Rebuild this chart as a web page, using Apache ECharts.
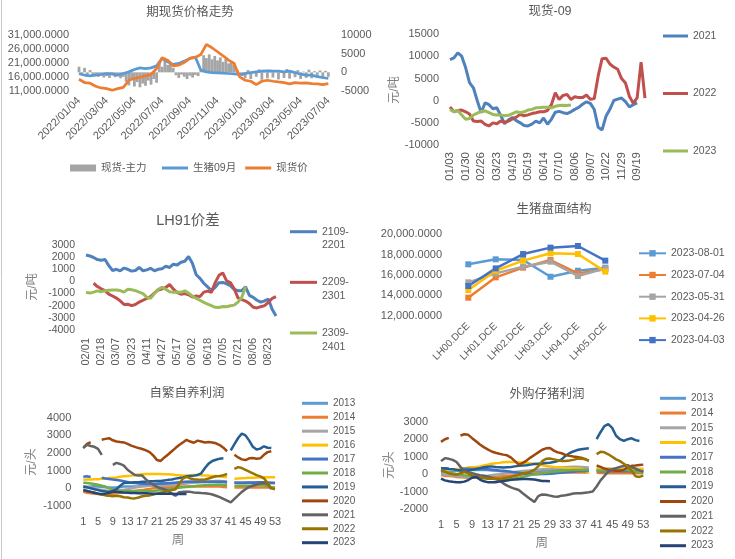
<!DOCTYPE html>
<html><head><meta charset="utf-8">
<script src="https://cdn.jsdelivr.net/npm/echarts@6/dist/echarts.min.js"></script>
<style>html,body{margin:0;padding:0;background:#fff;width:735px;height:559px;overflow:hidden}
.c{position:absolute;left:0;top:0;width:735px;height:559px}</style>
</head><body>
<div id="p1" class="c"></div><div id="p2" class="c"></div><div id="p3" class="c"></div>
<div id="p4" class="c"></div><div id="p5" class="c"></div><div id="p6" class="c"></div>
<script>
// ---------- Panel 1: 期现货价格走势 ----------
const p1Ticks = ['2022/01/04','2022/03/04','2022/05/04','2022/07/04','2022/09/04','2022/11/04','2023/01/04','2023/03/04','2023/05/04','2023/07/04'];
const p1Names = ['现货-主力','生猪09月','现货价'];
// basis (right axis), one value every 0.1 tick-interval
const p1Basis = [1500,-800,1200,-1200,600,-1000,
 -600,-1200,-900,-1400,-1000,-1500,-800,-1300,-1000,-1600,-1200,
 -2500,-3500,-2000,-3800,-2600,-4000,-3000,-3600,-2200,-3300,-1800,-2800,
 2800,1500,3200,2000,2600,1200,
 -800,-1500,-600,-1200,-1800,-900,-1400,-700,-1000,
 500,
 4600,3800,4800,3500,4400,3200,4000,2800,3600,2400,3000,2000,
 800,-500,-1000,
 -1500,600,-1800,300,-1200,800,-2000,400,-1600,700,-1400,500,-1900,300,-1500,900,-1700,400,-1300,600,-1800,200,-1500,700,-1600,300,-1400,500,-1700,400,-1200];
// one value every 0.2 tick-interval
const p1Futures = [17250,16640,16400,16640,16890,17250,17130,16640,17250,17830,18670,19260,19030,19260,19980,22630,21440,20480,20840,21670,22630,23100,18440,17830,17590,17470,17350,17250,17130,16890,17250,17590,17830,18070,18190,18070,18070,17830,18070,17590,17000,16640,16640,16160,15820,15460];
const p1Spot = [15200,14020,13780,12700,12080,11870,11260,11870,12320,14840,15460,15900,16400,16890,19030,22880,22020,19980,20240,21200,22630,23000,24060,27650,26450,25020,23580,22020,20840,16030,14840,14480,13280,14480,14840,14480,14240,14020,13540,14020,13780,13900,13660,13540,13300,13660];

// ---------- Panel 2: 现货-09 ----------
const p2Ticks = ['01/03','01/30','02/26','03/23','04/19','05/19','06/14','07/10','08/06','09/07','10/22','11/29','09/19'];
const p2Names = ['2021','2022','2023'];
const p2Y2021 = [9300,9670,10800,10050,7500,4100,2920,0,-2700,-450,-900,-1800,-1600,-3300,-5200,-4300,-3800,-4500,-5000,-5600,-5700,-5300,-4600,-5000,-3900,-5300,-4200,-2600,-2400,-2700,-2900,-2500,-1950,-1500,-800,-250,-600,-2000,-6000,-6600,-3500,-1950,50,350,600,-200,-1400,-900,-500];
const p2Y2022 = [-1430,-2500,-2200,-2100,-2500,-3000,-4580,-4700,-4600,-5330,-5700,-5000,-5200,-4580,-4900,-4600,-4100,-3700,-3080,-3400,-3200,-2900,-2700,-2480,-2500,-2200,-900,1800,300,1200,1420,300,900,700,700,1270,300,500,5600,9500,9600,8300,7600,7100,5000,4000,1000,-600,700,8700,600];
const p2Y2023 = [-1950,-2480,-2200,-3200,-4200,-4000,-3230,-2800,-2400,-2300,-2700,-3100,-3230,-3200,-3400,-3300,-2900,-2500,-2700,-2500,-2100,-1950,-1600,-1550,-1450,-1450,-1600,-1250,-1100,-1000,-1100,-980];

// ---------- Panel 3: LH91价差 ----------
const p3Ticks = ['02/01','02/18','03/07','03/23','04/11','04/27','05/17','06/02','06/18','07/05','07/21','08/06','08/23'];
const p3Names = ['2109-2201','2209-2301','2309-2401'];
const p3S2109 = [2180,2100,1970,1800,1750,1800,1300,900,1000,870,1100,1000,850,900,1150,880,950,1080,880,1000,1050,1250,1150,1420,1350,1580,1660,2050,1500,550,250,-150,-450,-750,-480,-100,-80,-200,-350,-650,-760,-760,-450,-1150,-1310,-1550,-1700,-1600,-1450,-2300,-2850];
const p3S2209 = [null,null,-150,-420,-600,-760,-1050,-1200,-1370,-1600,-1900,-1880,-1990,-1900,-1700,-1550,-1400,-1250,-950,-700,-620,-500,-250,-630,-920,-1050,-1000,-1100,-1280,-1200,-1250,-880,-800,-900,-100,500,700,50,-100,-600,-1350,-1500,-1620,-1820,-2130,-2180,-2080,-1990,-1720,-1400,-1260];
const p3S2309 = [-900,-960,-880,-780,-850,-760,-730,-710,-700,-750,-880,-650,-680,-760,-880,-1000,-1300,-1400,-1000,-650,-490,-650,-850,-900,-880,-900,-780,-960,-1200,-1400,-1550,-1720,-1860,-2000,-2130,-2150,-2070,-2080,-2000,-1950,-1700,-1300,-450];

// ---------- Panel 4: 生猪盘面结构 ----------
const p4Cats = ['LH00.DCE','LH01.DCE','LH02.DCE','LH03.DCE','LH04.DCE','LH05.DCE'];
const p4Names = ['2023-08-01','2023-07-04','2023-05-31','2023-04-26','2023-04-03'];
const p4D0801 = [17050,17540,17470,15830,16420,16720];
const p4D0704 = [13770,15770,16720,17470,16160,16560];
const p4D0531 = [15280,16160,16820,17310,15900,16650];
const p4D0426 = [14520,16420,17410,18130,18060,16330];
const p4D0403 = [14920,16650,18060,18690,18850,17410];

// ---------- Panels 5/6: weeks ----------
const weeks = ['1','2','3','4','5','6','7','8','9','10','11','12','13','14','15','16','17','18','19','20','21','22','23','24','25','26','27','28','29','30','31','32','33','34','35','36','37','38','39','40','41','42','43','44','45','46','47','48','49','50','51','52','53'];
const yearNames = ['2013','2014','2015','2016','2017','2018','2019','2020','2021','2022','2023'];
const NA24 = [null,null,null,null,null,null,null,null,null,null,null,null,null,null,null,null,null,null,null,null,null,null,null,null];
// 自繁自养利润
const p5Y2013 = [50,80,100,120,100,80,60,50,50,50,80,100,100,100,100,120,150,180,200,220,240,260,280,300,300,300,320,340,360,380,380,380,380,380,380,370,360,350,340,330,null,330,330,330,340,340,340,340,340,340,330,320,300];
const p5Y2014 = [-200,-250,-280,-300,-320,-350,-350,-330,-300,-280,-250,-230,-200,-180,-150,-120,-100,-60,-30,0,20,40,60,70,80,90,100,100,100,100,100,100,100,100,100,100,100,100,80,60,null,50,50,50,50,50,50,50,50,50,50,50,50];
const p5Y2015 = [100,80,50,0,-50,-100,-120,-150,-150,-120,-100,-80,-50,0,50,80,100,120,150,150,150,150,160,170,180,200,220,250,280,300,320,330,340,350,380,400,420,420,400,380,null,330,330,330,320,320,320,320,320,310,300,300,300];
const p5Y2016 = [490,500,500,520,520,550,560,580,600,620,650,680,700,720,750,780,800,810,810,810,810,810,800,800,780,760,740,720,720,740,760,760,740,720,720,700,700,680,660,630,null,550,560,570,580,600,600,620,630,630,630,630,630];
const p5Y2017 = [660,680,640,null,null,600,560,530,500,470,440,400,360,320,300,280,260,250,250,250,260,270,280,290,300,320,340,360,380,380,380,380,380,380,380,380,380,370,370,360,null,320,300,300,300,310,320,330,340,340,320,300,300];
const p5Y2018 = [320,300,280,250,200,150,100,0,-50,-100,-150,-150,-150,-150,-150,-150,-150,-150,-150,-150,-120,-100,-80,-50,-20,0,30,60,80,100,120,140,160,180,200,200,200,200,190,190,null,150,150,150,150,150,160,170,180,170,120,60,40];
const p5Y2019 = [100,60,0,-50,-100,-150,-180,-200,-150,-50,150,300,320,330,350,350,380,380,400,400,420,420,450,480,500,550,580,620,680,700,720,760,850,1150,1400,1550,1620,1680,1700,null,2150,2500,2850,3100,3000,2700,2350,2200,2250,2380,2300,2280,null];
const p5Y2020 = [2270,2520,2610,null,null,2750,2800,2840,2720,2650,2620,2600,2520,2420,2350,2280,2230,2150,2050,1850,1600,1550,1750,1920,2100,2280,2450,2600,2750,2650,2580,2700,2650,2600,2620,2600,2550,2450,2300,2100,null,1900,1750,1640,1600,1700,1720,1680,1700,1900,2050,2100,null];
const p5Y2021 = [2330,2460,2400,2350,2230,1890,null,null,1330,1440,1380,1290,1050,900,750,720,720,500,330,200,80,0,-50,-150,-300,-420,-220,-200,-190,-200,-230,-250,-270,-280,-300,-350,-420,-500,-600,-700,-800,-600,-400,-200,-50,80,150,220,280,300,250,-40,null];
const p5Y2022 = [-100,-150,-200,-250,-300,-350,-400,-420,-450,-420,-450,-500,-520,-560,-570,-520,-450,-420,-400,-350,-300,-250,-200,-150,-100,-50,250,550,650,560,520,500,490,500,560,630,680,700,740,810,null,1100,1200,1150,1050,950,850,750,680,570,300,0,-50];
const p5Y2023 = [-100,-150,-200,-250,-300,-320,-300,-250,-200,-200,-220,-240,-250,-260,-270,-280,-280,-280,-290,-300,-300,-300,-300,-300,-310,-320,-320,-320,-320].concat(NA24);
// 外购仔猪利润
const p6Y2013 = [100,100,120,150,180,200,220,230,240,250,250,250,240,220,200,180,160,140,120,100,100,100,120,140,160,180,200,220,240,260,280,300,300,300,300,300,300,300,300,null,250,250,250,250,250,250,250,250,250,250,250,250,250];
const p6Y2014 = [-50,-80,-100,-120,-150,-170,-180,-200,-200,-200,-190,-180,-170,-160,-150,-130,-110,-90,-70,-50,-30,-10,10,30,50,60,70,80,90,100,100,100,100,100,100,100,100,100,100,null,80,70,60,60,60,60,60,60,60,60,60,60,60];
const p6Y2015 = [0,-20,-50,-80,-100,-120,-140,-150,-150,-140,-120,-100,-80,-50,-20,0,30,60,100,130,160,180,200,220,240,260,280,300,320,340,360,380,400,420,430,430,420,400,380,null,320,320,320,310,310,310,300,300,300,300,300,300,300];
const p6Y2016 = [250,260,270,280,300,320,350,380,400,420,450,500,550,600,630,650,680,700,700,700,680,660,640,620,600,560,520,480,450,420,400,380,360,350,340,330,320,250,50,null,300,300,300,300,300,300,300,300,300,300,300,300,300];
const p6Y2017 = [350,340,330,null,null,320,320,310,300,300,300,300,290,270,250,220,200,170,140,110,80,50,30,10,0,0,10,20,30,50,70,90,110,130,150,170,180,190,200,null,180,170,170,170,170,170,170,170,170,170,170,170,170];
const p6Y2018 = [200,150,100,50,0,-30,-60,-80,-100,-120,-150,-180,-200,-220,-250,-270,-280,-280,-260,-240,-200,-150,-100,-50,0,30,60,90,120,150,170,190,210,230,240,250,250,250,250,null,220,220,220,230,230,240,240,250,250,200,150,100,100];
const p6Y2019 = [350,330,300,280,250,230,200,200,250,300,350,400,430,450,420,400,380,400,420,450,480,500,520,550,580,600,620,640,660,700,750,850,1050,1200,1300,1380,1430,1460,1490,null,2000,2400,2750,2860,2650,2200,2000,1900,2000,2050,1950,1900,null];
const p6Y2020 = [1850,2000,2080,null,null,2210,2280,2250,2060,1880,1700,1550,1420,1300,1230,1170,1120,1080,950,750,550,650,780,950,1100,1250,1400,1480,1500,1350,1250,1200,1100,1050,1010,980,950,880,760,null,500,420,320,270,240,200,200,250,420,480,500,530,550];
const p6Y2021 = [750,920,880,820,700,420,180,100,60,0,-50,-90,-130,-200,-280,-350,-520,-650,-750,-830,-900,-1080,-1250,-1420,-1580,-1250,-1150,-1170,-1220,-1270,-1280,-1220,-1200,-1150,-1100,-1090,-1080,-1050,-1030,-990,-700,-350,-100,150,280,350,420,470,520,400,320,220,150];
const p6Y2022 = [250,150,50,0,-30,60,120,50,-80,-150,-200,-230,-250,-260,-270,-250,-230,-200,-150,-100,-50,60,80,150,250,450,750,880,900,850,800,760,760,780,820,880,900,850,780,null,1150,1280,1250,1140,1000,850,750,600,450,200,-120,-150,-80];
const p6Y2023 = [-250,-350,-400,-430,-450,-460,-420,-330,-200,-150,-300,-400,-450,-460,-450,-420,-380,-350,-320,-300,-280,-270,-270,-280,-300,-340,-380,-390,-400].concat(NA24);

const yearColors = ['#5B9BD5','#ED7D31','#A5A5A5','#FFC000','#4472C4','#70AD47','#255E91','#9E480E','#636363','#997300','#264478'];

// ---------- helpers ----------
const FONT = "'Liberation Sans','Noto Sans CJK SC',sans-serif";
const TXT = '#595959';
const NAMEC = '#808080';
const isInt = v => Math.abs(v - Math.round(v)) < 1e-6;
const tickFmt = arr => v => isInt(v) ? (arr[Math.round(v)] || '') : '';
const pairs = (arr, step) => arr.map((v, i) => [Math.round(i * step * 1000) / 1000, v]);
const fmt4 = v => v.toLocaleString('en-US', {minimumFractionDigits: 4, maximumFractionDigits: 4});
const plain = v => String(v);
function ax(extra) {
  return Object.assign({axisLine: {show: false}, axisTick: {show: false}, splitLine: {show: false}}, extra);
}
function lab(extra) { return Object.assign({color: TXT, fontSize: 11, fontFamily: FONT, formatter: plain}, extra); }
function line(name, data, color, width, extra) {
  return Object.assign({type: 'line', name, data, showSymbol: false, symbol: 'none',
    lineStyle: {color, width}, itemStyle: {color}, animation: false}, extra || {});
}
function legend(names, left, top, extra) {
  return Object.assign({data: names, left, top, padding: 0, orient: 'vertical', icon: 'rect',
    itemWidth: 26, itemHeight: 3, itemGap: 10, selectedMode: false,
    textStyle: {color: TXT, fontSize: 10.5, fontFamily: FONT, lineHeight: 14}}, extra || {});
}
function txt(text, x, y, size, color, rot, align) {
  return {type: 'text', x, y, rotation: rot || 0, silent: true,
    style: {text, fill: color || TXT, fontSize: size, fontFamily: FONT, align: align || 'center', verticalAlign: 'middle'}};
}
function chart(id, opt) {
  const c = echarts.init(document.getElementById(id), null, {renderer: 'canvas'});
  opt.animation = false;
  opt.textStyle = {fontFamily: FONT};
  c.setOption(opt);
}

// ---------- Panel 1 ----------
chart('p1', {
  grid: {left: 79, top: 35, width: 251, height: 56},
  xAxis: ax({type: 'value', min: 0, max: 9.06, interval: 1,
    axisLabel: lab({rotate: 45, margin: 8, formatter: tickFmt(p1Ticks)})}),
  yAxis: [
    ax({type: 'value', min: 11000, max: 31000, interval: 5000, position: 'left',
      axisLabel: lab({margin: 10, formatter: fmt4})}),
    ax({type: 'value', min: -5000, max: 10000, interval: 5000, position: 'right',
      axisLabel: lab({margin: 11})})
  ],
  legend: [
    legend([p1Names[0]], 70, 161, {orient: 'horizontal', itemHeight: 7}),
    legend([p1Names[1], p1Names[2]], 162, 161, {orient: 'horizontal', itemGap: 9})
  ],
  series: [
    {type: 'bar', name: p1Names[0], yAxisIndex: 1, data: pairs(p1Basis, 0.1), barWidth: 2.8,
      itemStyle: {color: '#A5A5A5'}, animation: false},
    line(p1Names[1], pairs(p1Futures, 0.2), '#5B9BD5', 2.75),
    line(p1Names[2], pairs(p1Spot, 0.2), '#ED7D31', 2.75)
  ],
  graphic: [
    txt('期现货价格走势', 190, 13, 12.5),
    {type: 'line', silent: true, shape: {x1: 1.5, y1: 0, x2: 1.5, y2: 559}, style: {stroke: '#C8C8C8', lineWidth: 1}}
  ]
});

// ---------- Panel 2 ----------
const p2Colors = ['#4F81BD', '#C0504D', '#9BBB59'];
chart('p2', {
  grid: {left: 450, top: 34.3, width: 197, height: 110.7},
  xAxis: ax({type: 'value', min: 0, max: 12.63, interval: 1,
    axisLabel: lab({rotate: 90, margin: 7, fontSize: 11.5, formatter: tickFmt(p2Ticks)})}),
  yAxis: ax({type: 'value', min: -10000, max: 15000, interval: 5000,
    axisLabel: lab({margin: 11})}),
  legend: legend(p2Names, 663, 29, {itemWidth: 25, itemGap: 43.5}),
  series: [
    line(p2Names[0], pairs(p2Y2021, 0.25), p2Colors[0], 3),
    line(p2Names[1], pairs(p2Y2022, 0.25), p2Colors[1], 3),
    line(p2Names[2], pairs(p2Y2023, 0.25), p2Colors[2], 3)
  ],
  graphic: [txt('现货-09', 550, 12, 12.5), txt('元/吨', 395, 90, 12, NAMEC, Math.PI / 2)]
});

// ---------- Panel 3 ----------
chart('p3', {
  grid: {left: 86, top: 245, width: 191.5, height: 85},
  xAxis: ax({type: 'value', min: 0, max: 12.6, interval: 1,
    axisLabel: lab({rotate: 90, margin: 8, formatter: tickFmt(p3Ticks)})}),
  yAxis: ax({type: 'value', min: -4000, max: 3000, interval: 1000,
    axisLabel: lab({margin: 11, fontSize: 10.5})}),
  legend: legend(p3Names, 290, 224.7, {itemWidth: 27, itemGap: 36.65,
    formatter: n => n.split('-')[0] + '-'}),
  series: [
    line(p3Names[0], pairs(p3S2109, 0.25), p2Colors[0], 3),
    line(p3Names[1], pairs(p3S2209, 0.25), p2Colors[1], 3),
    line(p3Names[2], pairs(p3S2309, 0.25), p2Colors[2], 3)
  ],
  graphic: [
    txt('LH91价差', 188, 221, 14.5),
    txt('元/吨', 33, 287, 12, NAMEC, Math.PI / 2),
    txt(p3Names[0].split('-')[1], 322, 245, 10.5, TXT, 0, 'left'),
    txt(p3Names[1].split('-')[1], 322, 296, 10.5, TXT, 0, 'left'),
    txt(p3Names[2].split('-')[1], 322, 347, 10.5, TXT, 0, 'left')
  ]
});

// ---------- Panel 4 ----------
const p4Colors = ['#5B9BD5', '#ED7D31', '#A5A5A5', '#FFC000', '#4472C4'];
const p4Data = [p4D0801, p4D0704, p4D0531, p4D0426, p4D0403];
chart('p4', {
  grid: {left: 454.6, top: 234.3, width: 164.4, height: 81.4},
  xAxis: ax({type: 'category', data: p4Cats, boundaryGap: true,
    axisLabel: lab({rotate: 45, margin: 9, fontSize: 10, interval: 0, formatter: null})}),
  yAxis: ax({type: 'value', min: 12000, max: 20000, interval: 2000,
    axisLabel: lab({margin: 12.6, formatter: fmt4})}),
  legend: {data: p4Names, left: 638, top: 246.3, padding: 0, orient: 'vertical',
    itemWidth: 27, itemHeight: 8, itemGap: 7.7, selectedMode: false,
    textStyle: {color: TXT, fontSize: 10.5, fontFamily: FONT, lineHeight: 14}},
  series: p4Names.map((n, i) => ({type: 'line', name: n, data: p4Data[i], symbol: 'rect', symbolSize: 6,
    showSymbol: true, lineStyle: {color: p4Colors[i], width: 2.5}, itemStyle: {color: p4Colors[i]}, animation: false})),
  graphic: [txt('生猪盘面结构', 554, 210, 12.5)]
});

// ---------- Panel 5 ----------
const p5Data = [p5Y2013, p5Y2014, p5Y2015, p5Y2016, p5Y2017, p5Y2018, p5Y2019, p5Y2020, p5Y2021, p5Y2022, p5Y2023];
chart('p5', {
  grid: {left: 83.3, top: 417.7, width: 191.7, height: 88.3},
  xAxis: ax({type: 'category', data: weeks, boundaryGap: false,
    axisLabel: lab({margin: 10, interval: 3, formatter: null})}),
  yAxis: ax({type: 'value', min: -1000, max: 4000, interval: 1000,
    axisLabel: lab({margin: 12})}),
  legend: legend(yearNames, 302, 397.3, {itemGap: 1.94,
    textStyle: {color: TXT, fontSize: 10, fontFamily: FONT, lineHeight: 12}}),
  series: yearNames.map((n, i) => line(n, p5Data[i], yearColors[i], 2.5)),
  graphic: [txt('自繁自养利润', 187, 394, 12.5), txt('元/头', 32, 462, 12, NAMEC, Math.PI / 2), txt('周', 178, 541, 12.5, NAMEC)]
});

// ---------- Panel 6 ----------
const p6Data = [p6Y2013, p6Y2014, p6Y2015, p6Y2016, p6Y2017, p6Y2018, p6Y2019, p6Y2020, p6Y2021, p6Y2022, p6Y2023];
chart('p6', {
  grid: {left: 441, top: 421.7, width: 202.3, height: 87.6},
  xAxis: ax({type: 'category', data: weeks, boundaryGap: false,
    axisLabel: lab({margin: 10, interval: 3, formatter: null})}),
  yAxis: ax({type: 'value', min: -2000, max: 3000, interval: 1000,
    axisLabel: lab({margin: 13})}),
  legend: legend(yearNames, 660, 392.3, {itemGap: 2.74,
    textStyle: {color: TXT, fontSize: 10, fontFamily: FONT, lineHeight: 12}}),
  series: yearNames.map((n, i) => line(n, p6Data[i], yearColors[i], 2.5)),
  graphic: [txt('外购仔猪利润', 547, 395, 12.5), txt('元/头', 390, 465, 12, NAMEC, Math.PI / 2), txt('周', 541.7, 543.3, 12.5, NAMEC)]
});
</script>
</body></html>
